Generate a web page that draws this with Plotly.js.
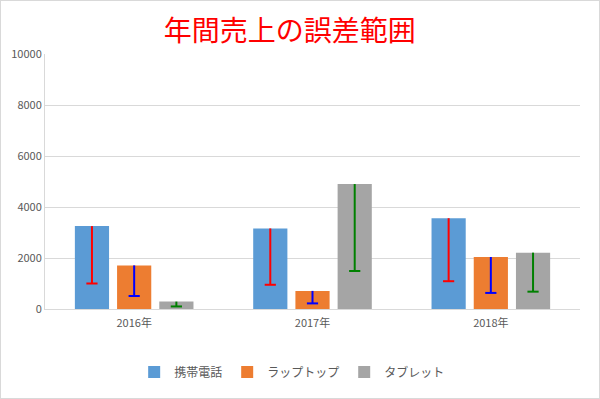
<!DOCTYPE html>
<html><head><meta charset="utf-8">
<script src="https://cdn.plot.ly/plotly-3.0.1.min.js"></script>
<style>html,body{margin:0;padding:0;background:#fff}#c{width:600px;height:399px}#b{position:absolute;left:0;top:0;width:598px;height:397px;border:1px solid #d9d9d9;pointer-events:none}</style>
</head><body><div id="c"></div><div id="b"></div>
<script>
const categories = ["2016年", "2017年", "2018年"];
const seriesNames = ["携帯電話", "ラップトップ", "タブレット"];
const phone = [3250, 3160, 3560];
const laptop = [1710, 710, 2040];
const tablet = [290, 4900, 2210];
const phoneErrMinus = [2250, 2210, 2470];
const laptopErrMinus = [1200, 490, 1410];
const tabletErrMinus = [190, 3410, 1530];
const barColors = ["#5b9bd5", "#ed7d31", "#a5a5a5"];
const errColors = ["#ff0000", "#0000ff", "#008000"];
const values = [phone, laptop, tablet];
const errs = [phoneErrMinus, laptopErrMinus, tabletErrMinus];

const bars = values.map((v, i) => ({
  type: "bar",
  name: seriesNames[i],
  x: categories,
  y: v,
  marker: {color: barColors[i], line: {width: 0}},
  hoverinfo: "none"
}));
// minus-only error bars: drawn from the lower end upward, with a cap only at the lower end
const errTraces = values.map((v, i) => ({
  type: "scatter",
  mode: "markers",
  showlegend: false,
  x: categories,
  y: v.map((val, j) => val - errs[i][j]),
  marker: {symbol: "line-ew", size: 8, color: errColors[i], line: {width: 2, color: errColors[i]}},
  error_y: {type: "data", symmetric: false, array: errs[i], arrayminus: errs[i].map(() => 0),
            color: errColors[i], thickness: 2, width: 0},
  hoverinfo: "none"
}));

const layout = {
  width: 600, height: 399,
  margin: {l: 45, r: 20, t: 54, b: 90},
  paper_bgcolor: "#fff", plot_bgcolor: "#fff",
  title: {text: "年間売上の誤差範囲", font: {family: "Noto Sans CJK JP, sans-serif", size: 28, color: "#ff0000"},
          x: 0.483, xanchor: "center", y: 0.922, yanchor: "middle"},
  barmode: "group", bargap: 0.29, bargroupgap: 0.19,
  scattermode: "group", scattergap: 0.29,
  font: {family: "Noto Sans CJK JP, Noto Sans, sans-serif", color: "#595959", size: 11},
  xaxis: {showgrid: false, showline: true, linecolor: "#d9d9d9", linewidth: 1, ticks: "",
          ticklabelstandoff: 4, tickfont: {size: 11, color: "#595959"}},
  yaxis: {range: [0, 10000], dtick: 2000, showgrid: true, gridcolor: "#d9d9d9", gridwidth: 1,
          showline: true, linecolor: "#d9d9d9", zeroline: true, zerolinecolor: "#d9d9d9",
          ticks: "", tickformat: "d", tickfont: {size: 11, color: "#595959"}},
  legend: {orientation: "h", x: 0.462, xanchor: "center", y: -0.19, yanchor: "top",
           font: {size: 12, color: "#595959"}, traceorder: "normal"},
  showlegend: true
};
Plotly.newPlot("c", bars.concat(errTraces), layout, {displayModeBar: false, staticPlot: true});
</script></body></html>
